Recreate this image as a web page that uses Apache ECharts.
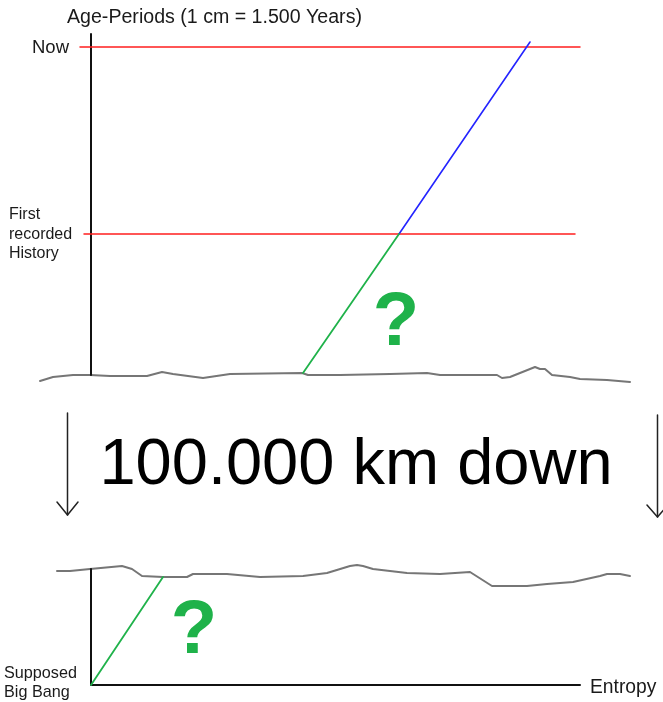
<!DOCTYPE html>
<html>
<head>
<meta charset="utf-8">
<script src="https://cdn.jsdelivr.net/npm/echarts@6/dist/echarts.min.js"></script>
<style>
html,body{margin:0;padding:0;background:#fff;}
#chart{width:663px;height:702px;}
</style>
</head>
<body>
<div id="chart"></div>
<script>
// Drawing space: x 0..663, y 0..702 (y downwards)
const upperTerrain = [[40,381],[53,377],[73,375],[90,375],[110,376],[147,376],[162,372],[173,374],[203,378],[230,374],[302,373],[308,375],[340,375],[390,374],[427,373],[440,375],[497,375],[502,378],[510,377],[520,373],[535,367],[540,369],[545,369],[552,375],[570,377],[580,379],[607,380],[630,382]];
const lowerTerrain = [[57,571],[70,571],[90,569],[122,566],[132,569],[142,576],[163,577],[187,577],[193,574],[227,574],[260,577],[303,576],[327,573],[350,566],[357,565],[363,566],[373,569],[407,573],[440,574],[470,572],[492,586],[527,586],[547,584],[573,582],[600,576],[607,574],[620,574],[630,576]];
const upperAxis = [[91,34],[91,375]];
const lowerAxisY = [[91,569],[91,685]];
const lowerAxisX = [[91,685],[580,685]];
const nowLine = [[80,47],[580,47]];
const historyLine = [[84,234],[575,234]];
const recordedTrend = [[399,234],[530,42]];
const guessedTrendUpper = [[303,373],[399,234]];
const guessedTrendLower = [[91,685],[163,577]];
const leftArrowShaft = [[67.5,413],[67.5,515]];
const leftArrowHead = [[57,502],[67.5,515],[78,502]];
const rightArrowShaft = [[657.5,415],[657.5,517]];
const rightArrowHead = [[647,505],[657.5,517],[668,505]];

const labels = {
  title: 'Age-Periods (1 cm = 1.500 Years)',
  now: 'Now',
  history: 'First\nrecorded\nHistory',
  bigBang: 'Supposed\nBig Bang',
  entropy: 'Entropy',
  down: '100.000 km down',
  question: '?'
};

const FONT = '"Liberation Sans", Arial, Helvetica, sans-serif';
function seg(data, color, width) {
  return {type:'line', data:data, showSymbol:false, symbol:'none', silent:true,
    lineStyle:{color:color, width:width, cap:'round', join:'round'}, z:2};
}
const GREEN = '#1fb24a';
const chart = echarts.init(document.getElementById('chart'), null, {renderer:'canvas'});
chart.setOption({
  animation:false,
  backgroundColor:'#ffffff',
  grid:{left:0,right:0,top:0,bottom:0},
  xAxis:{type:'value',min:0,max:663,show:false},
  yAxis:{type:'value',min:0,max:702,inverse:true,show:false},
  series:[
    seg(upperTerrain,'#767676',2),
    seg(lowerTerrain,'#767676',2),
    seg(upperAxis,'#111',2),
    seg(lowerAxisY,'#111',2),
    seg(lowerAxisX,'#111',2),
    seg(nowLine,'#ff1f1f',1.5),
    seg(historyLine,'#ff1f1f',1.5),
    seg(recordedTrend,'#2424ff',1.6),
    seg(guessedTrendUpper,GREEN,1.8),
    seg(guessedTrendLower,GREEN,1.8),
    seg(leftArrowShaft,'#222',1.5),
    seg(leftArrowHead,'#222',1.5),
    seg(rightArrowShaft,'#222',1.5),
    seg(rightArrowHead,'#222',1.5)
  ],
  graphic:[
    {type:'text',left:67,top:8,style:{text:labels.title,fontFamily:FONT,fontSize:19.6,fill:'#1a1a1a'}},
    {type:'text',left:32,top:38,style:{text:labels.now,fontFamily:FONT,fontSize:18.5,fill:'#1a1a1a'}},
    {type:'text',left:9,top:205,style:{text:labels.history,fontFamily:FONT,fontSize:16,lineHeight:19.5,fill:'#1a1a1a'}},
    {type:'text',left:4,top:664,style:{text:labels.bigBang,fontFamily:FONT,fontSize:16.2,lineHeight:19,fill:'#1a1a1a'}},
    {type:'text',left:590,top:678,style:{text:labels.entropy,fontFamily:FONT,fontSize:19.3,fill:'#1a1a1a'}},
    {type:'text',x:356,y:466,style:{text:labels.down,fontFamily:FONT,fontSize:65,fill:'#000',align:'center',verticalAlign:'middle'}},
    {type:'text',x:396,y:324,style:{text:labels.question,fontFamily:FONT,fontSize:76,fontWeight:'bold',fill:GREEN,align:'center',verticalAlign:'middle'}},
    {type:'text',x:194,y:632,style:{text:labels.question,fontFamily:FONT,fontSize:76,fontWeight:'bold',fill:GREEN,align:'center',verticalAlign:'middle'}}
  ]
});
</script>
</body>
</html>
